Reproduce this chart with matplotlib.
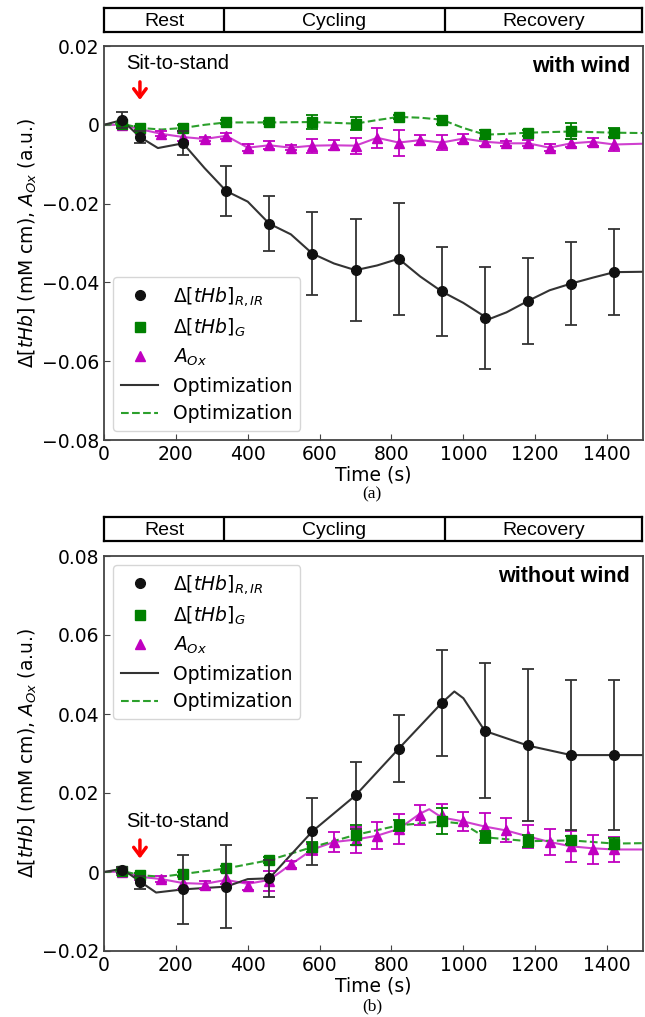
import matplotlib
matplotlib.use("Agg")
import matplotlib.pyplot as plt
from matplotlib.lines import Line2D

# ---- data ----
# phases (s)
phase_names = ["Rest", "Cycling", "Recovery"]
phase_edges = [0, 335, 950, 1500]

# (a) with wind
t_rir = [50, 100, 220, 340, 460, 580, 700, 820, 940, 1060, 1180, 1300, 1420]
a_rir = [0.0012, -0.0031, -0.0047, -0.0168, -0.0251, -0.0327, -0.0369, -0.0340,
         -0.0423, -0.0490, -0.0447, -0.0403, -0.0374]
a_rir_err = [0.002, 0.0015, 0.003, 0.0064, 0.007, 0.0106, 0.013, 0.0142,
             0.0113, 0.013, 0.011, 0.0105, 0.011]

t_g = [50, 100, 220, 340, 460, 580, 700, 820, 940, 1060, 1180, 1300, 1420]
a_g = [0.0003, -0.0008, -0.0008, 0.0006, 0.0006, 0.0007, 0.0003, 0.0020,
       0.0013, -0.0024, -0.0020, -0.0016, -0.0020]
a_g_err = [0.0005, 0.0005, 0.0008, 0.0005, 0.0004, 0.0017, 0.0017, 0.0005,
           0.001, 0.0012, 0.0008, 0.002, 0.0012]

t_ox = [50, 100, 160, 220, 280, 340, 400, 460, 520, 580, 640, 700, 760, 820,
        880, 940, 1000, 1060, 1120, 1180, 1240, 1300, 1360, 1420]
a_ox = [0.0, -0.0011, -0.0023, -0.0031, -0.0036, -0.0028, -0.0058, -0.0052,
        -0.0058, -0.0053, -0.0052, -0.0053, -0.0033, -0.0045, -0.0039, -0.0045,
        -0.0035, -0.0043, -0.0047, -0.0047, -0.0058, -0.0047, -0.0043, -0.0050]
a_ox_err = [0.0008, 0.0006, 0.0006, 0.001, 0.0006, 0.0008, 0.0008, 0.001,
            0.0006, 0.0018, 0.0013, 0.002, 0.0025, 0.0033, 0.0013, 0.002,
            0.0012, 0.001, 0.0006, 0.0008, 0.0008, 0.001, 0.001, 0.0016]

# optimization curves (a)
a_opt_t = [0, 50, 100, 150, 220, 280, 340, 400, 460, 520, 580, 640, 700, 760,
           820, 880, 940, 1000, 1060, 1075, 1120, 1180, 1240, 1300, 1360, 1420, 1500]
a_opt_rir = [0, 0.0012, -0.0031, -0.0059, -0.0047, -0.0110, -0.0168, -0.0195,
             -0.0251, -0.0278, -0.0327, -0.0352, -0.0369, -0.0357, -0.0340,
             -0.0385, -0.0423, -0.0452, -0.0487, -0.0492, -0.0476, -0.0447,
             -0.0420, -0.0403, -0.0388, -0.0374, -0.0373]
a_optg_t = [0, 50, 100, 160, 220, 280, 340, 460, 580, 700, 760, 820, 880, 940,
            1000, 1060, 1120, 1180, 1300, 1420, 1500]
a_opt_g = [0, 0.0003, -0.0008, -0.0012, -0.0008, 0.0, 0.0006, 0.0006, 0.0007,
           0.0003, 0.0012, 0.0020, 0.0018, 0.0013, -0.0008, -0.0025, -0.0023,
           -0.0020, -0.0017, -0.0020, -0.0021]
a_optox_t = [0] + t_ox + [1500]
a_opt_ox = [0] + a_ox + [-0.0048]

# (b) without wind
b_rir = [0.0005, -0.0026, -0.0044, -0.0037, -0.0016, 0.0103, 0.0194, 0.0312,
         0.0428, 0.0358, 0.0322, 0.0296, 0.0296]
b_rir_err = [0.0008, 0.0017, 0.0087, 0.0105, 0.0047, 0.0085, 0.0084, 0.0085,
             0.0135, 0.017, 0.0192, 0.019, 0.019]
b_g = [0.0003, -0.0008, -0.0005, 0.0009, 0.0030, 0.0063, 0.0094, 0.0118,
       0.0128, 0.0088, 0.0078, 0.0080, 0.0072]
b_g_err = [0.0005, 0.0005, 0.0005, 0.0006, 0.0008, 0.0013, 0.0025, 0.0013,
           0.0033, 0.0015, 0.0015, 0.001, 0.0015]
b_ox = [0.0001, -0.0012, -0.0018, -0.0028, -0.0032, -0.0016, -0.0035, -0.0022,
        0.0019, 0.0057, 0.0076, 0.0082, 0.0092, 0.0109, 0.0145, 0.0145, 0.0128,
        0.0115, 0.0107, 0.0090, 0.0076, 0.0065, 0.0057, 0.0057]
b_ox_err = [0.0008, 0.0008, 0.0008, 0.0015, 0.001, 0.0015, 0.001, 0.0025,
            0.0008, 0.0015, 0.0025, 0.0033, 0.0035, 0.0037, 0.0025, 0.0028,
            0.0025, 0.0035, 0.003, 0.003, 0.0032, 0.004, 0.0037, 0.0032]

b_opt_t = [0, 50, 100, 145, 220, 340, 400, 460, 580, 700, 820, 940, 975, 1000,
           1060, 1180, 1300, 1420, 1500]
b_opt_rir = [0, 0.0008, -0.0024, -0.0052, -0.0044, -0.0037, -0.0018, -0.0016,
             0.0103, 0.0194, 0.0312, 0.0428, 0.0457, 0.0440, 0.0357, 0.0320,
             0.0296, 0.0296, 0.0296]
b_optg_t = [0, 50, 100, 160, 220, 340, 460, 580, 700, 820, 940, 1000, 1060,
            1180, 1300, 1420, 1500]
b_opt_g = [0, 0.0003, -0.0008, -0.0012, -0.0005, 0.0009, 0.0030, 0.0063,
           0.0094, 0.0118, 0.0128, 0.0122, 0.0088, 0.0078, 0.0080, 0.0072, 0.0073]
b_optox_t = [0, 50, 100, 160, 220, 280, 340, 400, 460, 520, 580, 640, 700, 760,
             820, 880, 905, 940, 1000, 1060, 1120, 1180, 1240, 1300, 1360,
             1420, 1500]
b_opt_ox = [0, 0.0001, -0.0012, -0.0018, -0.0028, -0.0030, -0.0020, -0.0030,
            -0.0020, 0.0019, 0.0057, 0.0076, 0.0082, 0.0092, 0.0109, 0.0148,
            0.0159, 0.0138, 0.0128, 0.0115, 0.0105, 0.0090, 0.0076, 0.0065,
            0.0060, 0.0057, 0.0057]

BLACK = "#111111"
GREEN = "#008000"
MAG = "#c000c0"
W, H = 645, 1017


def frac_box(l, t, r, b):
    return [l / W, 1 - b / H, (r - l) / W, (b - t) / H]


def phase_bar(box):
    ax = plt.gcf().add_axes(box)
    ax.set_xlim(0, 1500)
    ax.set_ylim(0, 1)
    ax.set_xticks([])
    ax.set_yticks([])
    for s in ax.spines.values():
        s.set_linewidth(1.6)
    for x in phase_edges[1:-1]:
        ax.axvline(x, color="black", lw=1.6)
    for name, a, b in zip(phase_names, phase_edges[:-1], phase_edges[1:]):
        ax.text((a + b) / 2, 0.45, name, ha="center", va="center",
                fontsize=14, family="Liberation Sans")


def panel(box, rir, rir_e, g, g_e, ox, ox_e, opt, ylim, yticks, ylabels, tag):
    ax = plt.gcf().add_axes(box)
    ot, orir, ogt, og, oxt, oox = opt
    ax.plot(oxt, oox, color=MAG, lw=1.5, alpha=0.75, zorder=2)
    ax.plot(ogt, og, color="#2ca02c", lw=1.5, ls="--", zorder=2)
    ax.plot(ot, orir, color="#333333", lw=1.5, zorder=2)
    ax.errorbar(t_ox, ox, yerr=ox_e, fmt="^", color=MAG, ecolor=MAG,
                markersize=7, capsize=4, elinewidth=1.3, capthick=1.3, zorder=3)
    ax.errorbar(t_g, g, yerr=g_e, fmt="s", color=GREEN, ecolor=GREEN,
                markersize=6.5, capsize=4, elinewidth=1.3, capthick=1.3, zorder=4)
    ax.errorbar(t_rir, rir, yerr=rir_e, fmt="o", color=BLACK, ecolor="#333333",
                markersize=7, capsize=4, elinewidth=1.3, capthick=1.3, zorder=5)
    ax.set_xlim(0, 1500)
    ax.set_ylim(*ylim)
    ax.set_xticks(range(0, 1401, 200))
    ax.set_yticks(yticks)
    ax.set_yticklabels(ylabels)
    ax.tick_params(direction="in", labelsize=13.5, length=4, color="#444444")
    for s in ax.spines.values():
        s.set_linewidth(1.3)
        s.set_color("#444444")
    ax.set_xlabel("Time (s)", fontsize=13.5, labelpad=1)
    ax.set_ylabel(r"$\mathit{\Delta}[tHb]$ (mM cm), $A_{Ox}$ (a.u.)",
                  fontsize=13.5, labelpad=2)
    ax.text(0.976, 0.948, tag, transform=ax.transAxes, ha="right", va="center",
            fontsize=15.5, fontweight="bold", family="Liberation Sans")
    return ax


def legend(ax, loc):
    handles = [
        Line2D([], [], ls="none", marker="o", color=BLACK, markersize=7),
        Line2D([], [], ls="none", marker="s", color=GREEN, markersize=6.5),
        Line2D([], [], ls="none", marker="^", color=MAG, markersize=7),
        Line2D([], [], color="#333333", lw=1.5),
        Line2D([], [], color="#2ca02c", lw=1.5, ls="--"),
    ]
    labels = [r"$\Delta[tHb]_{R,IR}$", r"$\Delta[tHb]_{G}$", r"$A_{Ox}$",
              "Optimization", "Optimization"]
    ax.legend(handles, labels, loc=loc, fontsize=13.5, borderaxespad=0.5,
              handlelength=2.0, labelspacing=0.45)


ARROW = dict(arrowstyle="->,head_length=0.6,head_width=0.45", color="red", lw=2.5)

fig = plt.figure(figsize=(W / 100, H / 100), dpi=100)

# ---- (a) ----
phase_bar(frac_box(104, 8, 642, 32))
ax1 = panel(frac_box(104, 46, 643, 440), a_rir, a_rir_err, a_g, a_g_err,
            a_ox, a_ox_err,
            (a_opt_t, a_opt_rir, a_optg_t, a_opt_g, a_optox_t, a_opt_ox),
            (-0.08, 0.02), [-0.08, -0.06, -0.04, -0.02, 0, 0.02],
            ["\u22120.08", "\u22120.06", "\u22120.04", "\u22120.02", "0", "0.02"],
            "with wind")
legend(ax1, "lower left")
ax1.text(62, 0.0155, "Sit-to-stand", ha="left", va="center", fontsize=14.5,
         family="Liberation Sans")
ax1.annotate("", xy=(100, 0.0056), xytext=(100, 0.0116), arrowprops=ARROW)
fig.text(372 / W, 1 - 494 / H, "(a)", ha="center", va="center", fontsize=12.5,
         family="Liberation Serif")

# ---- (b) ----
phase_bar(frac_box(104, 517, 642, 541))
ax2 = panel(frac_box(104, 556, 643, 951), b_rir, b_rir_err, b_g, b_g_err,
            b_ox, b_ox_err,
            (b_opt_t, b_opt_rir, b_optg_t, b_opt_g, b_optox_t, b_opt_ox),
            (-0.02, 0.08), [-0.02, 0, 0.02, 0.04, 0.06, 0.08],
            ["\u22120.02", "0", "0.02", "0.04", "0.06", "0.08"],
            "without wind")
legend(ax2, "upper left")
ax2.text(62, 0.0127, "Sit-to-stand", ha="left", va="center", fontsize=14.5,
         family="Liberation Sans")
ax2.annotate("", xy=(100, 0.0027), xytext=(100, 0.0088), arrowprops=ARROW)
fig.text(372 / W, 1 - 1006 / H, "(b)", ha="center", va="center", fontsize=12.5,
         family="Liberation Serif")

fig.savefig("out.png", dpi=100)
